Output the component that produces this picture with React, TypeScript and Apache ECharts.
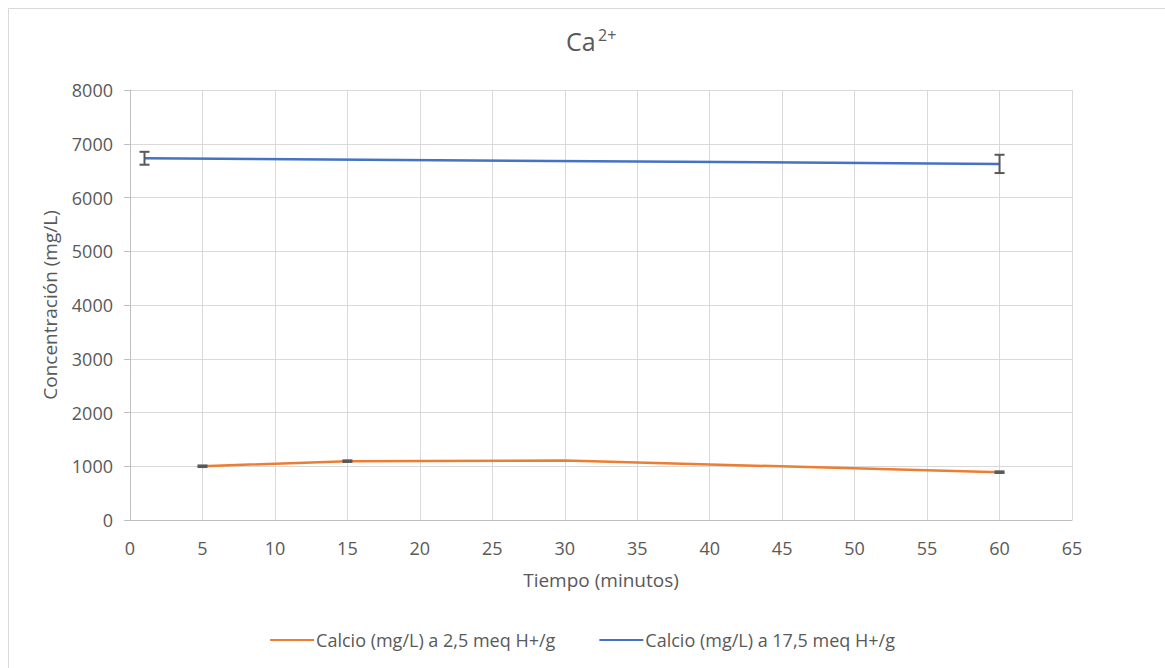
import React, { useEffect, useRef } from "react";
import * as echarts from "echarts";

// Time (minutes) and calcium concentration (mg/L)
const timeLow = [5, 15, 30, 60];
const calcioLow = [1000, 1095, 1105, 890];
const errLowPts = [5, 15, 60];
const errLowVal = [1000, 1095, 890];
const errLow = [15, 15, 15];

const timeHigh = [1, 60];
const calcioHigh = [6730, 6625];
const errHigh = [120, 170];

const seriesNames = ["Calcio (mg/L) a 2,5 meq H+/g", "Calcio (mg/L) a 17,5 meq H+/g"];

const FONT = "'Open Sans', sans-serif";
const TXT = "#595959";

function errorBarItem(params: any, api: any) {
  const x = api.value(0);
  const y = api.value(1);
  const e = api.value(2);
  const top = api.coord([x, y + e]);
  const bot = api.coord([x, y - e]);
  const half = 5;
  const style = { stroke: "#595959", lineWidth: 2 };
  return {
    type: "group",
    children: [
      { type: "line", shape: { x1: top[0], y1: top[1], x2: bot[0], y2: bot[1] }, style },
      { type: "line", shape: { x1: top[0] - half, y1: top[1], x2: top[0] + half, y2: top[1] }, style },
      { type: "line", shape: { x1: bot[0] - half, y1: bot[1], x2: bot[0] + half, y2: bot[1] }, style },
    ],
  };
}

export default function App() {
  const ref = useRef<HTMLDivElement>(null);

  useEffect(() => {
    if (!ref.current) return;
    const chart = echarts.init(ref.current, null, { renderer: "svg" });
    chart.setOption({
      animation: false,
      backgroundColor: "#ffffff",
      textStyle: { fontFamily: FONT },
      graphic: [
        {
          type: "rect",
          shape: { x: 8.5, y: 8.5, width: 1200, height: 700 },
          style: { fill: "none", stroke: "#D9D9D9", lineWidth: 1 },
          silent: true,
        },
        {
          type: "text",
          x: 566,
          y: 28,
          style: { text: "Ca", fontSize: 25, fontFamily: FONT, fill: TXT },
        },
        {
          type: "text",
          x: 598,
          y: 27,
          style: { text: "2+", fontSize: 16, fontFamily: FONT, fill: TXT },
        },
      ],
      grid: { left: 130, right: 93, top: 90, bottom: 148, containLabel: false },
      legend: {
        bottom: 14,
        left: "center",
        icon: "rect",
        itemWidth: 44,
        itemHeight: 2,
        itemGap: 44,
        textStyle: { fontSize: 18, color: TXT, fontFamily: FONT, padding: [0, 0, 0, -3] },
        data: seriesNames,
      },
      xAxis: {
        type: "value",
        min: 0,
        max: 65,
        interval: 5,
        name: "Tiempo (minutos)",
        nameLocation: "middle",
        nameGap: 50,
        nameTextStyle: { fontSize: 19, color: TXT, fontFamily: FONT },
        axisLine: { show: true, lineStyle: { color: "#BFBFBF", width: 1 } },
        axisTick: { show: false },
        axisLabel: { fontSize: 18, color: TXT, margin: 19, fontFamily: FONT },
        splitLine: { show: true, lineStyle: { color: "#D9D9D9", width: 1 } },
      },
      yAxis: {
        type: "value",
        min: 0,
        max: 8000,
        interval: 1000,
        name: "Concentración (mg/L)",
        nameLocation: "middle",
        nameGap: 71,
        nameTextStyle: { fontSize: 19, color: TXT, fontFamily: FONT },
        axisLine: { show: true, lineStyle: { color: "#BFBFBF", width: 1 } },
        axisTick: { show: true, length: 6, lineStyle: { color: "#BFBFBF" } },
        axisLabel: {
          fontSize: 18,
          color: TXT,
          margin: 17,
          fontFamily: FONT,
          formatter: (v: number) => String(v),
        },
        splitLine: { show: true, lineStyle: { color: "#D9D9D9", width: 1 } },
      },
      series: [
        {
          name: seriesNames[0],
          type: "line",
          data: timeLow.map((t, i) => [t, calcioLow[i]]),
          showSymbol: false,
          symbol: "none",
          lineStyle: { color: "#ED7D31", width: 2.5 },
          itemStyle: { color: "#ED7D31" },
          z: 2,
        },
        {
          name: seriesNames[1],
          type: "line",
          data: timeHigh.map((t, i) => [t, calcioHigh[i]]),
          showSymbol: false,
          symbol: "none",
          lineStyle: { color: "#4472C4", width: 2.5 },
          itemStyle: { color: "#4472C4" },
          z: 2,
        },
        {
          type: "custom",
          renderItem: errorBarItem,
          data: errLowPts.map((t, i) => [t, errLowVal[i], errLow[i]]),
          z: 3,
          silent: true,
        },
        {
          type: "custom",
          renderItem: errorBarItem,
          data: timeHigh.map((t, i) => [t, calcioHigh[i], errHigh[i]]),
          z: 3,
          silent: true,
        },
      ],
    });
    return () => chart.dispose();
  }, []);

  return (
    <div
      ref={ref}
      style={{ position: "fixed", left: 0, top: 0, width: 1165, height: 668 }}
    />
  );
}
